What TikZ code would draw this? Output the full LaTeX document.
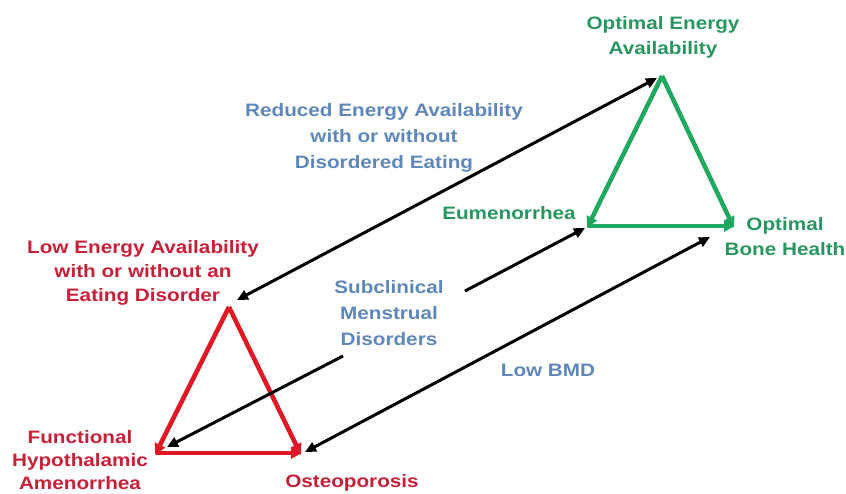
\documentclass[tikz,border=0pt]{standalone}
\usepackage{fontspec}
\setmainfont{Liberation Sans}[FakeStretch=1.15]
\usetikzlibrary{arrows.meta}
\definecolor{grn}{RGB}{32,168,96}
\definecolor{grntxt}{RGB}{40,150,95}
\definecolor{rd}{RGB}{222,24,36}
\definecolor{rdtxt}{RGB}{200,32,56}
\definecolor{blu}{RGB}{95,135,185}
\tikzset{
  lbl/.style={inner sep=0pt, anchor=north, align=center, font=\bfseries\fontsize{18bp}{#1}\selectfont},
  lbl/.default=25bp,
  tri/.style={line width=4.5bp, -{Triangle[length=11bp,width=11bp]}, shorten >=-2bp},
  blk/.style={line width=3bp, black, -{Triangle[length=11bp,width=10bp]}},
  dbl/.style={line width=3bp, black, {Triangle[length=11bp,width=10bp]}-{Triangle[length=11bp,width=10bp]}}
}
\begin{document}
\begin{tikzpicture}[x=1bp,y=-1bp]
\fill[white] (0,0) rectangle (846,494);
\useasboundingbox (0,0) rectangle (846,494);

% vertices
\coordinate (gA) at (662,76);
\coordinate (gL) at (588,226);
\coordinate (gR) at (733,226);
\coordinate (rA) at (229,307);
\coordinate (rL) at (156,453);
\coordinate (rR) at (300,453);

% black arrow end points
\coordinate (t1) at (657,78);
\coordinate (t2) at (237,300);
\coordinate (e1) at (585,228);
\coordinate (s1) at (465,291);
\coordinate (s2) at (343,356);
\coordinate (f1) at (167,447);
\coordinate (b1) at (710,237);
\coordinate (o1) at (305,452);

% labels
\node[lbl, text=grntxt] (oea) at (663,16) {Optimal Energy\\Availability};
\node[lbl=26bp, text=blu] (rea) at (384,103) {Reduced Energy Availability\\with or without\\Disordered Eating};
\node[lbl=24bp, text=rdtxt] (lea) at (143,240) {Low Energy Availability\\with or without an\\Eating Disorder};
\node[lbl, text=grntxt] (eu) at (509,206) {Eumenorrhea};
\node[lbl, text=grntxt] (obh) at (785,217) {Optimal\\Bone Health};
\node[lbl=26bp, text=blu] (smd) at (389,280) {Subclinical\\Menstrual\\Disorders};
\node[lbl, text=blu] (bmd) at (548,364) {Low BMD};
\node[lbl=23bp, text=rdtxt] (fha) at (80,430) {Functional\\Hypothalamic\\Amenorrhea};
\node[lbl, text=rdtxt] (ost) at (352,474) {Osteoporosis};

% green triangle
\draw[tri, grn] (gA) -- (gL);
\draw[tri, grn] (gA) -- (gR);
\draw[tri, grn] (gL) -- (gR);

% red triangle
\draw[tri, rd] (rA) -- (rL);
\draw[tri, rd] (rA) -- (rR);
\draw[tri, rd] (rL) -- (rR);

% black arrows
\draw[dbl] (t2) -- (t1);
\draw[blk] (s1) -- (e1);
\draw[blk] (s2) -- (f1);
\draw[dbl] (o1) -- (b1);
\end{tikzpicture}
\end{document}
